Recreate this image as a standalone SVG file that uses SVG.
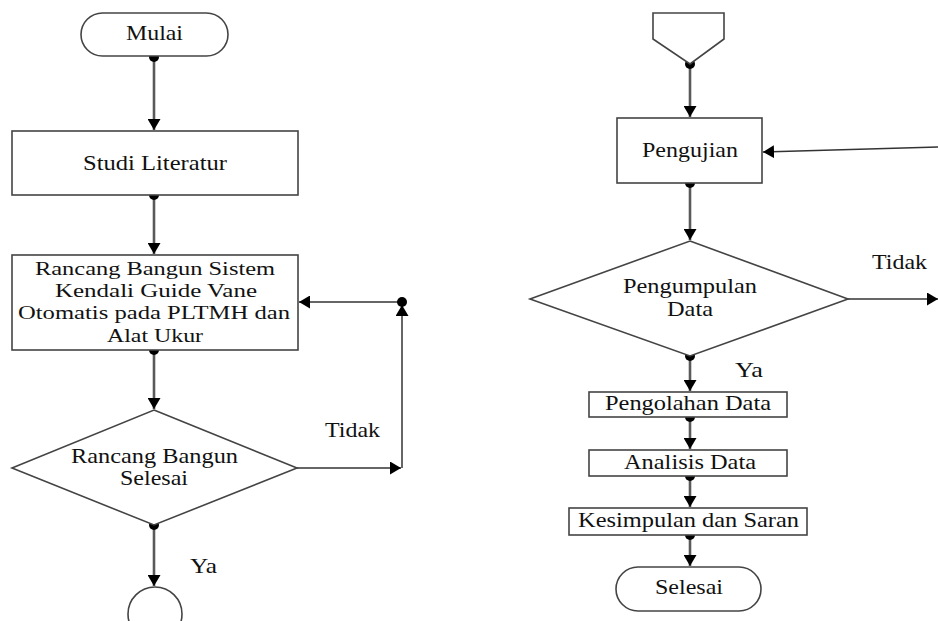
<svg xmlns="http://www.w3.org/2000/svg" width="938" height="621" viewBox="0 0 938 621">
<style>
.shape{fill:#fff;stroke:#444;stroke-width:1.6}
.tl{font-family:"Liberation Serif","Times New Roman",serif;font-size:21px;fill:#111}
.ts{font-size:19px}
.c{fill:none;stroke:#5a5a5a;stroke-width:2.6}
.ch{fill:none;stroke:#333;stroke-width:1.5}
</style>
<defs>
<marker id="arr" viewBox="0 0 11 13" refX="11" refY="6.5" markerWidth="11" markerHeight="13" markerUnits="userSpaceOnUse" orient="auto">
<path d="M0,0 L11,6.5 L0,13 z" fill="#000"/>
</marker>
<marker id="dot" viewBox="0 0 10 10" refX="5" refY="5" markerWidth="10" markerHeight="10" markerUnits="userSpaceOnUse">
<circle cx="5" cy="5" r="5" fill="#000"/>
</marker>
</defs>
<g id="connectors">
<path class="c" d="M154,57 V130" marker-start="url(#dot)" marker-end="url(#arr)"/>
<path class="c" d="M154,195 V254" marker-start="url(#dot)" marker-end="url(#arr)"/>
<path class="c" d="M154,350 V409" marker-start="url(#dot)" marker-end="url(#arr)"/>
<path class="c" d="M154,525 V586" marker-start="url(#dot)" marker-end="url(#arr)"/>
<path class="ch" d="M297,468 H401" marker-end="url(#arr)"/>
<path class="ch" d="M402,468 V305" marker-end="url(#arr)"/>
<path class="ch" d="M402,302 H299" marker-start="url(#dot)" marker-end="url(#arr)"/>
<path class="c" d="M690,64 V117" marker-start="url(#dot)" marker-end="url(#arr)"/>
<path class="ch" d="M938,147 L763,152" marker-end="url(#arr)"/>
<path class="c" d="M690,183 V240" marker-start="url(#dot)" marker-end="url(#arr)"/>
<path class="ch" d="M848,299 H938" marker-end="url(#arr)"/>
<path class="c" d="M690,356 V391" marker-start="url(#dot)" marker-end="url(#arr)"/>
<path class="c" d="M690,417 V449" marker-start="url(#dot)" marker-end="url(#arr)"/>
<path class="c" d="M690,476 V507" marker-start="url(#dot)" marker-end="url(#arr)"/>
<path class="c" d="M690,535 V566" marker-start="url(#dot)" marker-end="url(#arr)"/>
<text class="tl" x="325" y="437" textLength="55" lengthAdjust="spacingAndGlyphs">Tidak</text>
<text class="tl" x="190" y="573" textLength="27" lengthAdjust="spacingAndGlyphs">Ya</text>
<text class="tl" x="872" y="269" textLength="55" lengthAdjust="spacingAndGlyphs">Tidak</text>
<text class="tl" x="735" y="377" textLength="28" lengthAdjust="spacingAndGlyphs">Ya</text>
</g>
<g id="mulai">
<rect class="shape" x="81" y="13" width="147" height="43" rx="21.5"/>
<text class="tl" x="126" y="40" textLength="57" lengthAdjust="spacingAndGlyphs">Mulai</text>
</g>
<g id="studi">
<rect class="shape" x="12" y="131" width="286" height="64"/>
<text class="tl" x="83" y="170" textLength="144" lengthAdjust="spacingAndGlyphs">Studi Literatur</text>
</g>
<g id="rancang">
<rect class="shape" x="12" y="255" width="286" height="95"/>
<text class="tl ts" x="35" y="275" textLength="240" lengthAdjust="spacingAndGlyphs">Rancang Bangun Sistem</text>
<text class="tl ts" x="55" y="297" textLength="202" lengthAdjust="spacingAndGlyphs">Kendali Guide Vane</text>
<text class="tl ts" x="18" y="319" textLength="272" lengthAdjust="spacingAndGlyphs">Otomatis pada PLTMH dan</text>
<text class="tl ts" x="107" y="342" textLength="96" lengthAdjust="spacingAndGlyphs">Alat Ukur</text>
</g>
<g id="decision1">
<polygon class="shape" points="154,410 297,468 154,525 12,468"/>
<text class="tl" x="71" y="463" textLength="167" lengthAdjust="spacingAndGlyphs">Rancang Bangun</text>
<text class="tl" x="120" y="485" textLength="68" lengthAdjust="spacingAndGlyphs">Selesai</text>
</g>
<g id="connector-a">
<circle class="shape" cx="155" cy="614" r="27"/>
</g>
<g id="offpage">
<polygon class="shape" points="653,13 724,13 724,39 690,64 653,39"/>
</g>
<g id="pengujian">
<rect class="shape" x="617" y="118" width="145" height="65"/>
<text class="tl" x="642" y="157" textLength="96" lengthAdjust="spacingAndGlyphs">Pengujian</text>
</g>
<g id="decision2">
<polygon class="shape" points="690,241 848,299 690,356 530,299"/>
<text class="tl" x="623" y="293" textLength="134" lengthAdjust="spacingAndGlyphs">Pengumpulan</text>
<text class="tl" x="667" y="316" textLength="46" lengthAdjust="spacingAndGlyphs">Data</text>
</g>
<g id="pengolahan">
<rect class="shape" x="589" y="392" width="198" height="25"/>
<text class="tl" x="605" y="410" textLength="166" lengthAdjust="spacingAndGlyphs">Pengolahan Data</text>
</g>
<g id="analisis">
<rect class="shape" x="589" y="450" width="198" height="26"/>
<text class="tl" x="624" y="469" textLength="132" lengthAdjust="spacingAndGlyphs">Analisis Data</text>
</g>
<g id="kesimpulan">
<rect class="shape" x="569" y="508" width="238" height="27"/>
<text class="tl" x="578" y="527" textLength="221" lengthAdjust="spacingAndGlyphs">Kesimpulan dan Saran</text>
</g>
<g id="selesai">
<rect class="shape" x="616" y="567" width="145" height="44" rx="22"/>
<text class="tl" x="655" y="594" textLength="68" lengthAdjust="spacingAndGlyphs">Selesai</text>
</g>
</svg>
